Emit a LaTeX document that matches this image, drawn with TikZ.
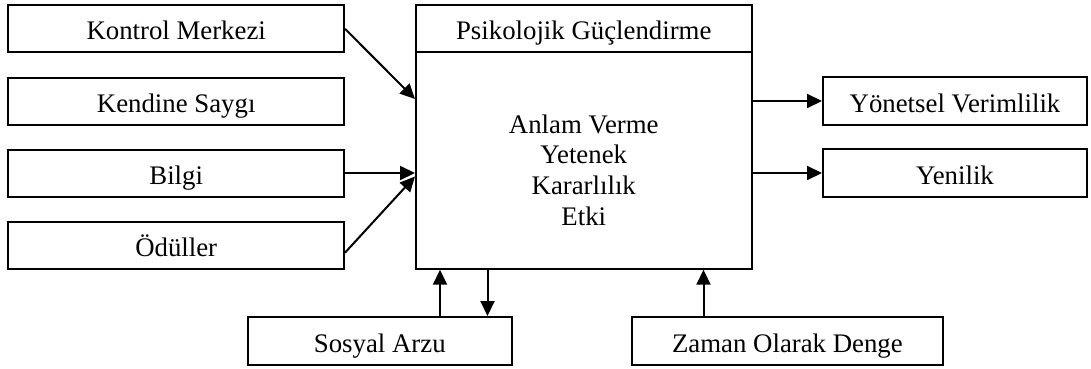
\documentclass[tikz,border=0pt]{standalone}
\usepackage{fontspec}
\setmainfont{Liberation Serif}
\usetikzlibrary{arrows.meta}
\begin{document}
\begin{tikzpicture}[x=1pt,y=-1pt,
  txt/.style={font=\fontsize{26.8}{30.7}\selectfont},
  box/.style={draw, line width=2pt, rectangle, inner sep=0pt, txt, text height=24pt, text depth=1.6pt},
  leftbox/.style={box, minimum width=335.6pt, minimum height=47pt},
  rightbox/.style={box, minimum width=264pt, minimum height=48pt},
  arr/.style={line width=2pt, -{Triangle[length=15pt,width=14pt]}}]
\useasboundingbox (0,0) rectangle (1091,369);
% left column
\node[leftbox] (kontrol) at (176.2,28.8) {Kontrol Merkezi};
\node[leftbox] (kendine) at (176.2,101) {Kendine Saygı};
\node[leftbox] (bilgi) at (176.2,173) {Bilgi};
\node[leftbox] (odul) at (176.2,245) {Ödüller};
% main box
\node[box, minimum width=335.5pt, minimum height=47pt] (title) at (583.75,28.8) {Psikolojik Güçlendirme};
\node[box, minimum width=335.5pt, minimum height=216.4pt, text height=, text depth=] (body) at (583.75,160.5) {};
\node[txt, align=center, inner sep=0pt] (bodytext) at (583.75,170) {Anlam Verme\\Yetenek\\Kararlılık\\Etki};
% right column
\node[rightbox] (yon) at (955,101) {Yönetsel Verimlilik};
\node[rightbox] (yen) at (955,173) {Yenilik};
% bottom
\node[box, minimum width=263.6pt, minimum height=48pt] (sosyal) at (379.8,341) {Sosyal Arzu};
\node[box, minimum width=310.7pt, minimum height=48pt] (zaman) at (787.4,341) {Zaman Olarak Denge};
% connectors
\draw[arr] (kontrol.east) -- ([yshift=61.5pt]body.west);
\draw[arr] (bilgi.east) -- (bilgi.east -| body.west);
\draw[arr] ([yshift=-7.7pt]odul.east) -- ([yshift=-16pt]body.west);
\draw[arr] (body.east |- yon.west) -- (yon.west);
\draw[arr] (body.east |- yen.west) -- (yen.west);
\draw[arr] ([xshift=60.2pt]sosyal.north) -- ([xshift=60.2pt]sosyal.north |- body.south);
\draw[arr] ([xshift=107.7pt]sosyal.north |- body.south) -- ([xshift=107.7pt]sosyal.north);
\draw[arr] ([xshift=-83.9pt]zaman.north) -- ([xshift=-83.9pt]zaman.north |- body.south);
\end{tikzpicture}
\end{document}
